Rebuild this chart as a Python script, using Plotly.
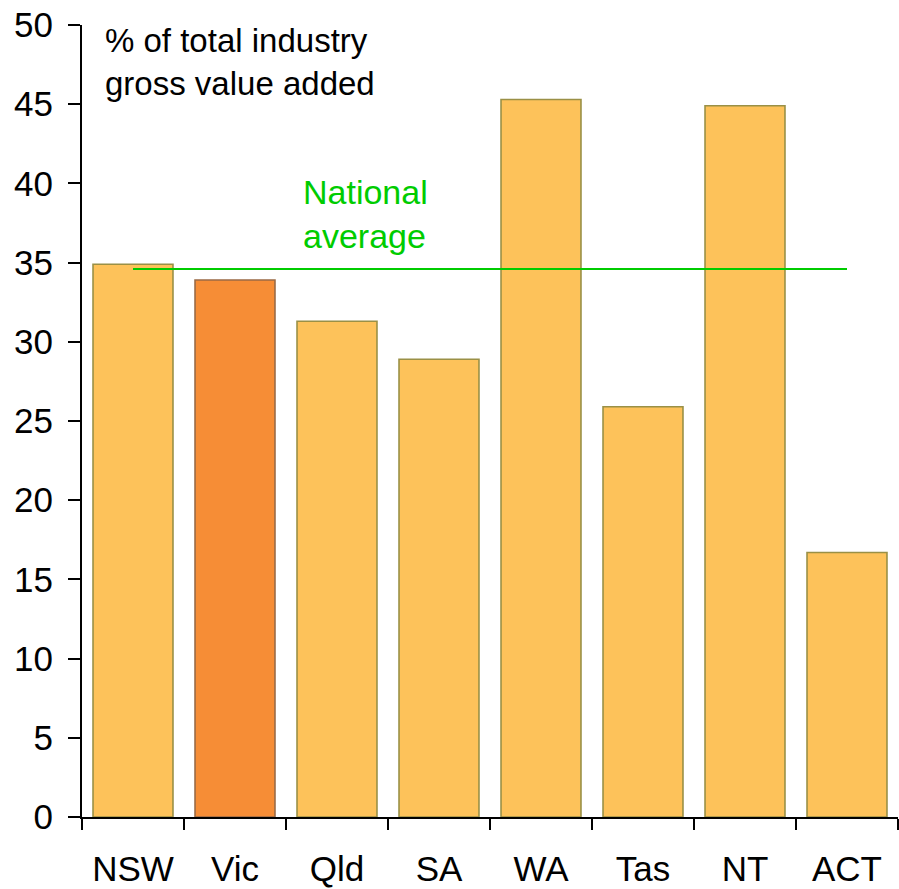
import plotly.graph_objects as go

categories = ["NSW", "Vic", "Qld", "SA", "WA", "Tas", "NT", "ACT"]
values = [34.9, 33.9, 31.3, 28.9, 45.3, 25.9, 44.9, 16.7]
national_average = 34.6
highlight = "Vic"

y_ticks = [0, 5, 10, 15, 20, 25, 30, 35, 40, 45, 50]

FONT = "Arial, 'Liberation Sans', sans-serif"

fill_colors = ["#F68D36" if c == highlight else "#FDC25A" for c in categories]
line_colors = ["#9A6A45" if c == highlight else "#9A9046" for c in categories]

fig = go.Figure()
fig.add_trace(go.Bar(
    x=categories, y=values,
    marker=dict(color=fill_colors, line=dict(color=line_colors, width=1.6)),
    showlegend=False,
))
fig.add_trace(go.Scatter(
    x=[categories[0], categories[-1]], y=[national_average, national_average],
    mode="lines", line=dict(color="#00CC00", width=2), showlegend=False,
))

fig.add_annotation(
    text="% of total industry<br>gross value added",
    xref="paper", yref="paper", x=0.026, y=1.006, xanchor="left", yanchor="top",
    align="left", showarrow=False, font=dict(family=FONT, size=33, color="#000000"),
)
fig.add_annotation(
    text="National<br>average",
    xref="paper", yref="y", x=0.268, y=38.1, xanchor="left", yanchor="middle",
    align="left", showarrow=False, font=dict(family=FONT, size=34, color="#00CC00"),
)

fig.update_layout(
    width=899, height=889,
    margin=dict(l=82, r=1, t=25, b=72),
    paper_bgcolor="white", plot_bgcolor="white",
    bargap=0.216,
    font=dict(family=FONT, color="#000000"),
)
fig.update_xaxes(
    showline=True, linecolor="#000000", linewidth=2,
    ticks="outside", tickson="boundaries", ticklen=11, tickwidth=2, tickcolor="#000000",
    tickfont=dict(size=35, family=FONT), ticklabelstandoff=20,
    showgrid=False, zeroline=False, automargin=False,
)
fig.update_yaxes(
    range=[0, 50], tickvals=y_ticks,
    showline=True, linecolor="#000000", linewidth=2,
    ticks="outside", ticklen=12, tickwidth=2, tickcolor="#000000",
    tickfont=dict(size=35, family=FONT), ticklabelstandoff=8,
    showgrid=False, zeroline=False, automargin=False,
)

fig.write_html(
    "out.html",
    config={"displayModeBar": False},
    post_script="document.body.style.margin='0';document.body.style.overflow='hidden';",
)
